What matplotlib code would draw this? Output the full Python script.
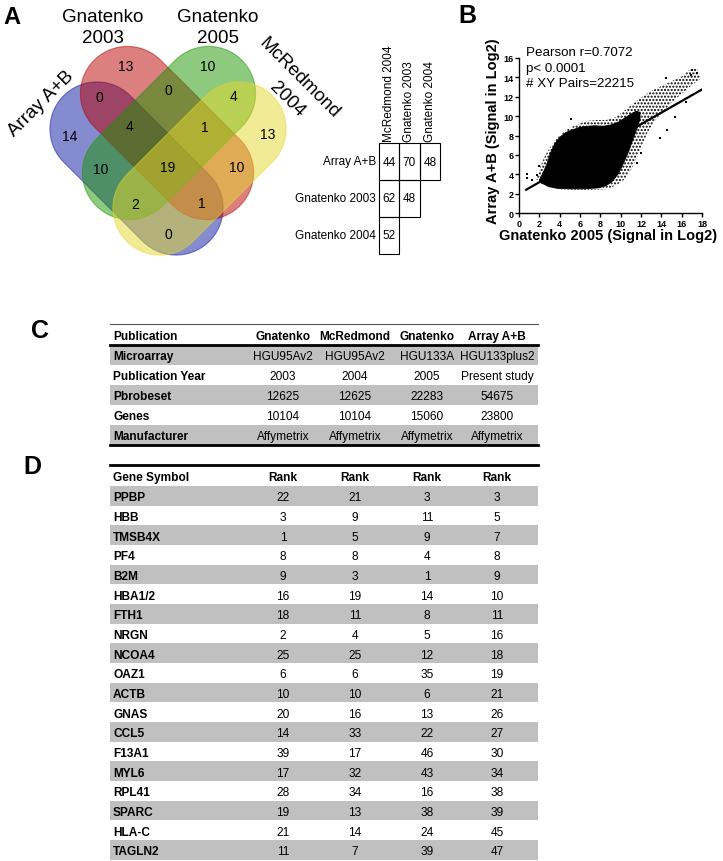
import matplotlib
matplotlib.use("Agg")
import matplotlib.pyplot as plt
import numpy as np
from matplotlib import font_manager
from matplotlib.patches import Polygon, Rectangle

W, H = 723, 862

# ---- panel A: Venn diagram ----
venn_titles = ["Array A+B", "Gnatenko\n2003", "Gnatenko\n2005", "McRedmond\n2004"]
venn_colors = ["#0a18a0", "#b80000", "#1c9400", "#e6d82c"]
# regions named by membership: A=Array A+B, R=Gnatenko 2003, G=Gnatenko 2005, M=McRedmond 2004
venn_regions = ["A", "R", "G", "M", "AR", "RG", "GM", "ARG", "RGM",
                "AG", "ARGM", "RM", "AGM", "ARM", "AM"]
venn_counts = [14, 13, 10, 13, 0, 0, 4, 4, 1, 10, 19, 10, 2, 1, 0]

pair_rows = ["Array A+B", "Gnatenko 2003", "Gnatenko 2004"]
pair_cols = ["McRedmond 2004", "Gnatenko 2003", "Gnatenko 2004"]
pair_vals = [[44, 70, 48], [62, 48], [52]]

# ---- panel B: scatter (outline of the dense cloud) ----
core_x = [2.0, 2.4, 2.8, 3.1, 3.5, 4.0, 4.6, 5.3, 6.0, 6.7, 7.5, 8.3, 9.1, 9.8, 10.4, 11.0,
          11.5, 11.9, 11.9, 11.6, 11.2, 10.8, 10.3, 9.8, 9.2, 8.6, 7.9, 6.4, 5.0, 3.7, 2.9, 2.3]
core_y = [3.4, 4.2, 5.2, 6.2, 7.1, 7.8, 8.3, 8.6, 8.85, 8.95, 9.0, 8.95, 9.1, 9.4, 9.8, 10.2,
          10.5, 10.4, 9.7, 8.7, 7.6, 6.4, 5.2, 4.1, 3.3, 2.85, 2.6, 2.5, 2.5, 2.55, 2.75, 3.05]
fringe_x = [1.7, 2.1, 2.6, 3.2, 3.9, 4.7, 5.6, 6.6, 7.6, 8.6, 9.5, 10.3, 11.1, 12.0, 13.0,
            14.0, 15.0, 16.0, 16.8, 17.5, 17.9, 17.0, 16.0, 15.0, 14.0, 13.2, 12.6, 12.1,
            11.6, 11.0, 10.3, 9.5, 8.5, 7.0, 5.5, 4.0, 3.0, 2.2]
fringe_y = [3.5, 4.8, 6.0, 7.0, 7.9, 8.6, 9.1, 9.5, 9.6, 9.6, 9.9, 10.5, 11.2, 11.9, 12.6,
            13.1, 13.6, 14.1, 14.8, 14.9, 13.9, 13.2, 12.3, 11.4, 10.3, 9.3, 8.2, 7.0,
            5.7, 4.4, 3.4, 2.8, 2.45, 2.4, 2.4, 2.45, 2.65, 3.0]
outlier_x = [0.8, 0.8, 1.25, 1.8, 2.0, 5.1, 11.6, 12.0, 13.9, 14.6, 15.3, 16.4, 16.9, 17.0, 17.5, 14.5]
outlier_y = [4.06, 3.6, 3.4, 3.9, 4.9, 9.7, 5.2, 6.2, 7.7, 8.6, 9.9, 11.5, 14.2, 14.8, 14.5, 13.9]
fit_x = [0.7, 18.0]
fit_y = [2.4, 12.75]
stats = ["Pearson r=0.7072", "p< 0.0001", "# XY Pairs=22215"]

# ---- panel C ----
pub_header = ["Publication", "Gnatenko", "McRedmond", "Gnatenko", "Array A+B"]
pub_rows = ["Microarray", "Publication Year", "Pbrobeset", "Genes", "Manufacturer"]
pub_vals = [["HGU95Av2", "HGU95Av2", "HGU133A", "HGU133plus2"],
            ["2003", "2004", "2005", "Present study"],
            ["12625", "12625", "22283", "54675"],
            ["10104", "10104", "15060", "23800"],
            ["Affymetrix", "Affymetrix", "Affymetrix", "Affymetrix"]]

# ---- panel D ----
genes = ["PPBP", "HBB", "TMSB4X", "PF4", "B2M", "HBA1/2", "FTH1", "NRGN", "NCOA4", "OAZ1",
         "ACTB", "GNAS", "CCL5", "F13A1", "MYL6", "RPL41", "SPARC", "HLA-C", "TAGLN2"]
rank_g2003 = [22, 3, 1, 8, 9, 16, 18, 2, 25, 6, 10, 20, 14, 39, 17, 28, 19, 21, 11]
rank_mcr2004 = [21, 9, 5, 8, 3, 19, 11, 4, 25, 6, 10, 16, 33, 17, 32, 34, 13, 14, 7]
rank_g2005 = [3, 11, 9, 4, 1, 14, 8, 5, 12, 35, 6, 13, 22, 46, 43, 16, 38, 24, 39]
rank_array = [3, 5, 7, 8, 9, 10, 11, 16, 18, 19, 21, 26, 27, 30, 34, 38, 39, 45, 47]

names = {f.name for f in font_manager.fontManager.ttflist}
if "Liberation Sans Narrow" in names:
    tfam, tsize = "Liberation Sans Narrow", 11
else:
    tfam, tsize = "Liberation Sans", 8.6
sans = "Liberation Sans"

fig = plt.figure(figsize=(W / 100, H / 100), dpi=100)
bg = fig.add_axes([0, 0, 1, 1])
bg.set_xlim(0, W)
bg.set_ylim(H, 0)
bg.axis("off")


def stadium(cx, cy, ux, uy, h=56, r=47, n=40):
    vx, vy = -uy, ux
    t = np.linspace(-np.pi / 2, np.pi / 2, n)
    pts = []
    for sgn, tt in ((1, t), (-1, t + np.pi)):
        px = cx + sgn * h * ux + r * (np.cos(tt) * ux + np.sin(tt) * vx)
        py = cy + sgn * h * uy + r * (np.cos(tt) * uy + np.sin(tt) * vy)
        pts.append(np.column_stack([px, py]))
    return np.vstack(pts)


d = np.sqrt(0.5)
shapes = [(136.5, 169.5, d, d), (167, 134, d, d), (169, 134, -d, d), (199.5, 169.5, -d, d)]
for (cx, cy, ux, uy), col in zip(shapes, venn_colors):
    bg.add_patch(Polygon(stadium(cx, cy, ux, uy), closed=True, facecolor=col,
                         edgecolor=col, alpha=0.5, lw=0.8))

region_pos = {"A": (70, 137), "R": (126, 67), "G": (208, 67), "M": (268, 135),
              "AR": (99, 98), "RG": (168, 91), "GM": (233, 97), "ARG": (129, 127),
              "RGM": (205, 128), "AG": (101, 170), "ARGM": (168, 168), "RM": (237, 168),
              "AGM": (135, 205), "ARM": (202, 204), "AM": (168, 235)}
for reg, cnt in zip(venn_regions, venn_counts):
    x, y = region_pos[reg]
    bg.text(x, y, str(cnt), ha="center", va="center", fontsize=10, family=sans)

# set titles
bg.text(41, 104, venn_titles[0], rotation=45, rotation_mode="anchor",
        ha="center", va="center", fontsize=13.5, family=sans)
for (x, t) in ((103, venn_titles[1]), (218, venn_titles[2])):
    l1, l2 = t.split("\n")
    bg.text(x, 21.7, l1, ha="center", va="baseline", fontsize=13.5, family=sans)
    bg.text(x, 42.7, l2, ha="center", va="baseline", fontsize=13.5, family=sans)
l1, l2 = venn_titles[3].split("\n")
bg.text(299, 78, l1, rotation=-45, rotation_mode="anchor", ha="center", va="center",
        fontsize=13.5, family=sans)
bg.text(287, 100, l2, rotation=-45, rotation_mode="anchor", ha="center", va="center",
        fontsize=13.5, family=sans)

# pairwise overlap table
cw, rh, x0, y0 = 20.3, 37, 379, 144
for j, c in enumerate(pair_cols):
    bg.text(x0 + cw * (j + 0.5), y0 - 2, c, rotation=90, ha="center", va="bottom",
            fontsize=8.5, family=sans)
for i, (lab, vals) in enumerate(zip(pair_rows, pair_vals)):
    bg.text(x0 - 3, y0 + rh * (i + 0.5), lab, ha="right", va="center",
            fontsize=8.5, family=sans)
    for j, v in enumerate(vals):
        bg.add_patch(Rectangle((x0 + cw * j, y0 + rh * i), cw, rh, facecolor="none",
                               edgecolor="black", lw=0.8))
        bg.text(x0 + cw * (j + 0.5), y0 + rh * (i + 0.5), str(v), ha="center",
                va="center", fontsize=8.5, family=sans)

# panel letters
for lab, x, y, fs in (("A", 11.5, 17, 17), ("B", 467.5, 16, 18), ("C", 40, 331.5, 18),
                      ("D", 32, 467, 18)):
    bg.text(x, y, lab, ha="center", va="center", fontsize=fs, weight="bold", family=sans)

# ---- scatter ----
ax = fig.add_axes([519 / W, 1 - 214 / H, 183 / W, 155 / H])
ax.set_facecolor("none")
ax.fill(fringe_x, fringe_y, facecolor="none", edgecolor="black", hatch=".....", lw=0)
ax.fill(core_x, core_y, color="black", lw=0.6)
ax.scatter(outlier_x, outlier_y, s=1.5, c="black", marker="s", lw=0)
ax.plot(fit_x, fit_y, color="black", lw=1.6)
ax.set_xlim(0, 18)
ax.set_ylim(0, 16)
ax.set_xticks(range(0, 19, 2))
ax.set_yticks(range(0, 17, 2))
for s in ("top", "right"):
    ax.spines[s].set_visible(False)
for s in ("left", "bottom"):
    ax.spines[s].set_linewidth(1)
ax.tick_params(length=3, width=1, labelsize=6.5, pad=1)
for lbl in ax.get_xticklabels() + ax.get_yticklabels():
    lbl.set_fontweight("bold")
    lbl.set_family(sans)
for k, s in enumerate(stats):
    bg.text(526, 56 + 15.6 * k, s, ha="left", va="baseline", fontsize=9.6, family=sans)
bg.text(608, 236, "Gnatenko 2005 (Signal in Log2)", ha="center", va="center",
        fontsize=10.5, weight="bold", family=sans)
bg.text(493, 131, "Array A+B (Signal in Log2)", ha="center", va="center", rotation=90,
        fontsize=10.5, weight="bold", family=sans)

# ---- tables ----
tl, tr = 110, 538
lab_x = 113
col_x = [283, 355, 427, 497]
gray = "#c0c0c0"


def cell(x, y, s, bold=False, ha="center"):
    bg.text(x, y + 1.5, s, ha=ha, va="center", fontsize=tsize, family=tfam,
            weight="bold" if bold else "normal")


# panel C
bg.plot([tl, tr], [325, 325], color="#555555", lw=0.8)
cell(lab_x, 336, pub_header[0], True, "left")
for x, s in zip(col_x, pub_header[1:]):
    cell(x, 336, s, True)
rh_c, top_c = 20.1, 345.5
for i, (lab, vals) in enumerate(zip(pub_rows, pub_vals)):
    yc = top_c + rh_c * (i + 0.5)
    if i % 2 == 0:
        bg.add_patch(Rectangle((tl, top_c + rh_c * i), tr - tl, rh_c, color=gray, lw=0))
    cell(lab_x, yc, lab, True, "left")
    for x, s in zip(col_x, vals):
        cell(x, yc, s)
bg.plot([tl, tr], [top_c, top_c], color="black", lw=2)
bg.plot([tl, tr], [top_c + rh_c * len(pub_rows)] * 2, color="black", lw=2)

# panel D
bg.plot([tl, tr], [466, 466], color="black", lw=2)
cell(lab_x, 477, "Gene Symbol", True, "left")
for x in col_x:
    cell(x, 477, "Rank", True)
rh_d, top_d = 19.67, 487
for i, g in enumerate(genes):
    yc = top_d + rh_d * (i + 0.5)
    if i % 2 == 0:
        bg.add_patch(Rectangle((tl, top_d + rh_d * i), tr - tl, rh_d, color=gray, lw=0))
    cell(lab_x, yc, g, True, "left")
    for x, v in zip(col_x, (rank_g2003[i], rank_mcr2004[i], rank_g2005[i], rank_array[i])):
        cell(x, yc, str(v))

fig.savefig("out.png", dpi=100)
